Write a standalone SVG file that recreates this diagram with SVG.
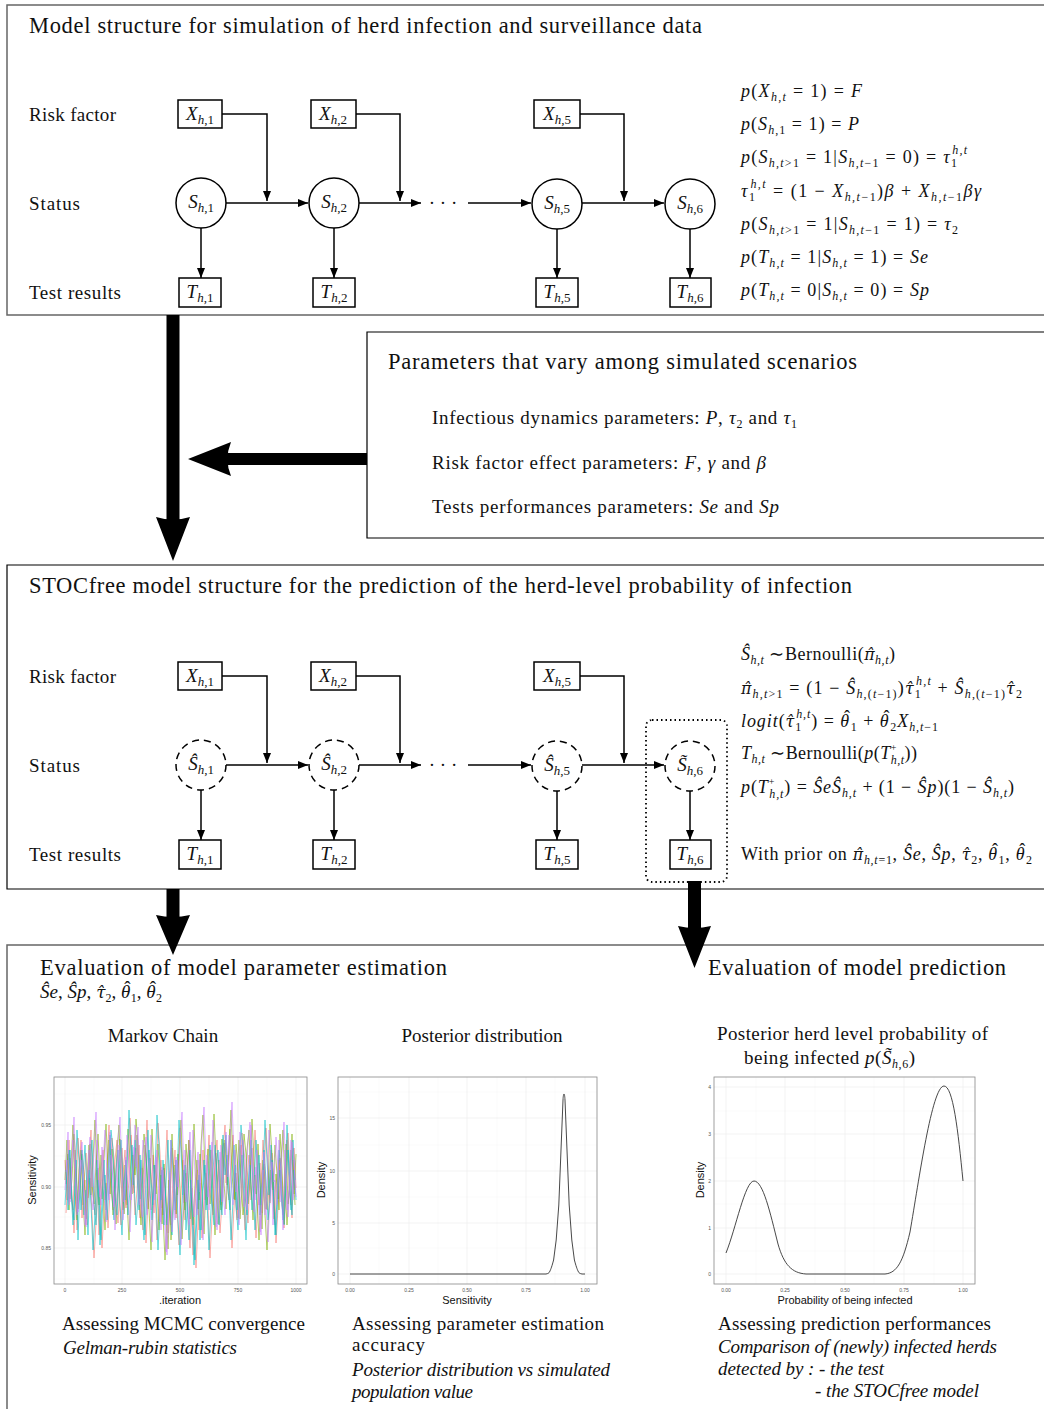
<svg xmlns="http://www.w3.org/2000/svg" xmlns:xlink="http://www.w3.org/1999/xlink" width="1044" height="1409" viewBox="0 0 1044 1409">
<defs>
<style>
text{font-family:"Liberation Serif","Times New Roman",serif;fill:#111}
.t{font-size:22.5px}
.b{font-size:19px}
.m{font-size:18px}
.nl{font-size:19px}
.i{font-style:italic}
.s{font-size:12px}
.sp{font-size:10px}
.nl .s{font-size:13px}
.h{font-family:"DejaVu Serif",serif;font-size:0.88em}
.tick{font-family:"Liberation Sans",Arial,sans-serif;font-size:5px;fill:#555}
.ax{font-family:"Liberation Sans",Arial,sans-serif;font-size:11px;fill:#111}
.box{fill:#fff;stroke:#000;stroke-width:1.5}
.circ{fill:#fff;stroke:#000;stroke-width:1.5}
.dcirc{fill:#fff;stroke:#000;stroke-width:1.5;stroke-dasharray:7 5}
.con{fill:none;stroke:#000;stroke-width:1.5}
.frame{fill:none;stroke:#666;stroke-width:1.5}
.frameb{fill:none;stroke:#000;stroke-width:1.2}
.grid{stroke:#ebebeb;stroke-width:0.6}
.gridm{stroke:#f4f4f4;stroke-width:0.4}
.panel{fill:none;stroke:#888;stroke-width:0.8}
.tr{fill:none;stroke-width:0.8;opacity:0.75}
</style>
<marker id="ah" viewBox="0 0 10 10" refX="10" refY="5" markerWidth="10" markerHeight="10" markerUnits="userSpaceOnUse" orient="auto">
<path d="M0,1 L10,5 L0,9 Z" fill="#000"/>
</marker>
<clipPath id="cp1"><rect x="54" y="1077" width="253" height="207"/></clipPath>
<polyline id="trA" vector-effect="non-scaling-stroke" points="0,1160 1,1200 2,1140 3,1190 4,1210 5,1150 6,1230 7,1175 8,1140 9,1205 10,1180 11,1225 12,1160 13,1130 14,1195 15,1215 16,1170 17,1235 18,1190 19,1150 20,1200 21,1165 22,1125 23,1185 24,1210 25,1160 26,1140 27,1195 28,1225 29,1175 30,1150 31,1205 32,1180 33,1135 34,1170 35,1215 36,1190 37,1145 38,1200 39,1230 40,1165 41,1120 42,1180 43,1210 44,1155 45,1190 46,1240 47,1200 48,1160 49,1215 50,1175 51,1130 52,1195 53,1225 54,1180 55,1150 56,1210 57,1245 58,1195 59,1160 60,1220 61,1185 62,1140 63,1205 64,1255 65,1210 66,1170 67,1230 68,1190 69,1150 70,1200 71,1175 72,1135 73,1190 74,1215 75,1160 76,1140 77,1185 78,1205 79,1150 80,1125 81,1180 82,1200 83,1165 84,1135 85,1195 86,1220 87,1170 88,1145 89,1190 90,1230 91,1180 92,1155 93,1200 94,1175 95,1130 96,1165 97,1205 98,1185 99,1140 100,1170 101,1210 102,1190 103,1150 104,1200 105,1225 106,1180 107,1160 108,1195 109,1215 110,1170 111,1140 112,1185 113,1205 114,1160 115,1190"/>
<polyline id="trB" vector-effect="non-scaling-stroke" points="0,1180 1,1140 2,1210 3,1165 4,1125 5,1190 6,1220 7,1170 8,1150 9,1200 10,1235 11,1180 12,1145 13,1195 14,1160 15,1120 16,1175 17,1205 18,1155 19,1190 20,1230 21,1185 22,1140 23,1170 24,1215 25,1195 26,1150 27,1125 28,1180 29,1210 30,1165 31,1200 32,1240 33,1190 34,1155 35,1175 36,1135 37,1195 38,1225 39,1180 40,1145 41,1170 42,1210 43,1250 44,1200 45,1165 46,1190 47,1230 48,1175 49,1215 50,1260 51,1220 52,1180 53,1240 54,1205 55,1165 56,1195 57,1150 58,1120 59,1180 60,1210 61,1170 62,1140 63,1195 64,1225 65,1185 66,1160 67,1200 68,1145 69,1115 70,1170 71,1205 72,1180 73,1150 74,1195 75,1235 76,1190 77,1160 78,1210 79,1175 80,1140 81,1185 82,1150 83,1110 84,1165 85,1200 86,1180 87,1140 88,1175 89,1215 90,1195 91,1150 92,1130 93,1185 94,1220 95,1175 96,1200 97,1240 98,1195 99,1160 100,1215 101,1250 102,1205 103,1170 104,1190 105,1145 106,1175 107,1210 108,1160 109,1130 110,1185 111,1225 112,1190 113,1150 114,1170 115,1205"/>
</defs>
<rect width="1044" height="1409" fill="#fff"/>

<!-- Frames -->
<g id="frames">
<path class="frame" d="M1046,5 H7 V315 H1046"/>
<path class="frameb" d="M1046,332 H367 V538 H1046"/>
<path class="frameb" d="M1046,565 H7 V889 H1046"/>
<path class="frame" d="M1046,945 H7 V1411"/>
<rect x="646" y="720" width="81" height="162" rx="6" fill="none" stroke="#000" stroke-width="1.8" stroke-dasharray="1.5 3"/>
</g>

<!-- Section titles and row labels -->
<g id="titles">
<text class="t" x="29" y="33" textLength="673">Model structure for simulation of herd infection and surveillance data</text>
<text class="t" x="388" y="369" textLength="469">Parameters that vary among simulated scenarios</text>
<text class="t" x="29" y="593" textLength="823">STOCfree model structure for the prediction of the herd-level probability of infection</text>
<text class="b" x="29" y="121" textLength="87">Risk factor</text>
<text class="b" x="29" y="210" textLength="51">Status</text>
<text class="b" x="29" y="299" textLength="92">Test results</text>
<text class="b" x="29" y="683" textLength="87">Risk factor</text>
<text class="b" x="29" y="772" textLength="51">Status</text>
<text class="b" x="29" y="861" textLength="92">Test results</text>
</g>

<!-- Parameters box content -->
<g id="params">
<text class="b" x="432" y="424" textLength="365">Infectious dynamics parameters:  <tspan class="i">P</tspan>, <tspan class="i">τ</tspan><tspan class="s" dy="4">2</tspan><tspan dy="-4"> and </tspan><tspan class="i">τ</tspan><tspan class="s" dy="4">1</tspan></text>
<text class="b" x="432" y="469" textLength="334">Risk factor effect parameters:  <tspan class="i">F</tspan>, <tspan class="i">γ</tspan> and <tspan class="i">β</tspan></text>
<text class="b" x="432" y="513" textLength="347">Tests performances parameters:  <tspan class="i">Se</tspan> and <tspan class="i">Sp</tspan></text>
</g>

<!-- Connectors -->
<g id="connectors">
<path class="con" d="M222,114 H267 V201" marker-end="url(#ah)"/>
<path class="con" d="M226,203 H308" marker-end="url(#ah)"/>
<path class="con" d="M356,114 H400 V201" marker-end="url(#ah)"/>
<path class="con" d="M359,203 H421" marker-end="url(#ah)"/>
<path class="con" d="M468,203 H531" marker-end="url(#ah)"/>
<path class="con" d="M580,114 H624 V201" marker-end="url(#ah)"/>
<path class="con" d="M582,203 H664" marker-end="url(#ah)"/>
<path class="con" d="M201,228 V278" marker-end="url(#ah)"/>
<path class="con" d="M334,228 V278" marker-end="url(#ah)"/>
<path class="con" d="M557,229 V278" marker-end="url(#ah)"/>
<path class="con" d="M690,229 V278" marker-end="url(#ah)"/>

<path class="con" d="M222,676 H267 V763" marker-end="url(#ah)"/>
<path class="con" d="M226,765 H308" marker-end="url(#ah)"/>
<path class="con" d="M356,676 H400 V763" marker-end="url(#ah)"/>
<path class="con" d="M359,765 H421" marker-end="url(#ah)"/>
<path class="con" d="M468,765 H531" marker-end="url(#ah)"/>
<path class="con" d="M580,676 H624 V763" marker-end="url(#ah)"/>
<path class="con" d="M582,765 H664" marker-end="url(#ah)"/>
<path class="con" d="M201,790 V840" marker-end="url(#ah)"/>
<path class="con" d="M334,790 V840" marker-end="url(#ah)"/>
<path class="con" d="M557,791 V840" marker-end="url(#ah)"/>
<path class="con" d="M690,791 V840" marker-end="url(#ah)"/>

<!-- thick arrows -->
<rect x="166.5" y="315" width="13" height="205" fill="#000"/>
<path d="M156,517 Q173,522 190,517 L173,561 Z" fill="#000"/>
<rect x="224" y="453" width="143" height="12" fill="#000"/>
<path d="M188,459 L231,442 Q224,459 231,476 Z" fill="#000"/>
<rect x="166.5" y="889" width="13" height="28" fill="#000"/>
<path d="M156,915 Q173,919 190,915 L173,955 Z" fill="#000"/>
<rect x="688" y="881" width="13" height="47" fill="#000"/>
<path d="M678,926 Q694.5,930 711,926 L694.5,968 Z" fill="#000"/>
</g>
<text class="b" x="443" y="209" text-anchor="middle">· · ·</text>
<text class="b" x="443" y="771" text-anchor="middle">· · ·</text>

<!-- Top nodes -->
<g id="X1"><rect class="box" x="178" y="100" width="44" height="28"/><text class="nl" x="200" y="120" text-anchor="middle"><tspan class="i">X</tspan><tspan class="s" dy="4"><tspan class="i">h</tspan>,1</tspan></text></g>
<g id="X2"><rect class="box" x="311" y="100" width="45" height="28"/><text class="nl" x="333" y="120" text-anchor="middle"><tspan class="i">X</tspan><tspan class="s" dy="4"><tspan class="i">h</tspan>,2</tspan></text></g>
<g id="X5"><rect class="box" x="534" y="100" width="46" height="28"/><text class="nl" x="557" y="120" text-anchor="middle"><tspan class="i">X</tspan><tspan class="s" dy="4"><tspan class="i">h</tspan>,5</tspan></text></g>
<g id="S1"><circle class="circ" cx="201" cy="203" r="25"/><text class="nl" x="201" y="208" text-anchor="middle"><tspan class="i">S</tspan><tspan class="s" dy="4"><tspan class="i">h</tspan>,1</tspan></text></g>
<g id="S2"><circle class="circ" cx="334" cy="203" r="25"/><text class="nl" x="334" y="208" text-anchor="middle"><tspan class="i">S</tspan><tspan class="s" dy="4"><tspan class="i">h</tspan>,2</tspan></text></g>
<g id="S5"><circle class="circ" cx="557" cy="204" r="25"/><text class="nl" x="557" y="209" text-anchor="middle"><tspan class="i">S</tspan><tspan class="s" dy="4"><tspan class="i">h</tspan>,5</tspan></text></g>
<g id="S6"><circle class="circ" cx="690" cy="204" r="25"/><text class="nl" x="690" y="209" text-anchor="middle"><tspan class="i">S</tspan><tspan class="s" dy="4"><tspan class="i">h</tspan>,6</tspan></text></g>
<g id="T1"><rect class="box" x="179" y="278" width="42" height="29"/><text class="nl" x="200" y="298" text-anchor="middle"><tspan class="i">T</tspan><tspan class="s" dy="4"><tspan class="i">h</tspan>,1</tspan></text></g>
<g id="T2"><rect class="box" x="313" y="278" width="42" height="29"/><text class="nl" x="334" y="298" text-anchor="middle"><tspan class="i">T</tspan><tspan class="s" dy="4"><tspan class="i">h</tspan>,2</tspan></text></g>
<g id="T5"><rect class="box" x="536" y="278" width="42" height="29"/><text class="nl" x="557" y="298" text-anchor="middle"><tspan class="i">T</tspan><tspan class="s" dy="4"><tspan class="i">h</tspan>,5</tspan></text></g>
<g id="T6"><rect class="box" x="670" y="278" width="41" height="29"/><text class="nl" x="690" y="298" text-anchor="middle"><tspan class="i">T</tspan><tspan class="s" dy="4"><tspan class="i">h</tspan>,6</tspan></text></g>

<!-- Middle nodes -->
<g id="MX1"><rect class="box" x="178" y="662" width="44" height="28"/><text class="nl" x="200" y="682" text-anchor="middle"><tspan class="i">X</tspan><tspan class="s" dy="4"><tspan class="i">h</tspan>,1</tspan></text></g>
<g id="MX2"><rect class="box" x="311" y="662" width="45" height="28"/><text class="nl" x="333" y="682" text-anchor="middle"><tspan class="i">X</tspan><tspan class="s" dy="4"><tspan class="i">h</tspan>,2</tspan></text></g>
<g id="MX5"><rect class="box" x="534" y="662" width="46" height="28"/><text class="nl" x="557" y="682" text-anchor="middle"><tspan class="i">X</tspan><tspan class="s" dy="4"><tspan class="i">h</tspan>,5</tspan></text></g>
<g id="MS1"><circle class="dcirc" cx="201" cy="765" r="25"/><text class="nl" x="201" y="770" text-anchor="middle"><tspan class="i">Ŝ</tspan><tspan class="s" dy="4"><tspan class="i">h</tspan>,1</tspan></text></g>
<g id="MS2"><circle class="dcirc" cx="334" cy="765" r="25"/><text class="nl" x="334" y="770" text-anchor="middle"><tspan class="i">Ŝ</tspan><tspan class="s" dy="4"><tspan class="i">h</tspan>,2</tspan></text></g>
<g id="MS5"><circle class="dcirc" cx="557" cy="766" r="25"/><text class="nl" x="557" y="771" text-anchor="middle"><tspan class="i">Ŝ</tspan><tspan class="s" dy="4"><tspan class="i">h</tspan>,5</tspan></text></g>
<g id="MS6"><circle class="dcirc" cx="690" cy="766" r="25"/><text class="nl" x="690" y="771" text-anchor="middle"><tspan class="i">S̃</tspan><tspan class="s" dy="4"><tspan class="i">h</tspan>,6</tspan></text></g>
<g id="MT1"><rect class="box" x="179" y="840" width="42" height="29"/><text class="nl" x="200" y="860" text-anchor="middle"><tspan class="i">T</tspan><tspan class="s" dy="4"><tspan class="i">h</tspan>,1</tspan></text></g>
<g id="MT2"><rect class="box" x="313" y="840" width="42" height="29"/><text class="nl" x="334" y="860" text-anchor="middle"><tspan class="i">T</tspan><tspan class="s" dy="4"><tspan class="i">h</tspan>,2</tspan></text></g>
<g id="MT5"><rect class="box" x="536" y="840" width="42" height="29"/><text class="nl" x="557" y="860" text-anchor="middle"><tspan class="i">T</tspan><tspan class="s" dy="4"><tspan class="i">h</tspan>,5</tspan></text></g>
<g id="MT6"><rect class="box" x="670" y="840" width="41" height="29"/><text class="nl" x="690" y="860" text-anchor="middle"><tspan class="i">T</tspan><tspan class="s" dy="4"><tspan class="i">h</tspan>,6</tspan></text></g>

<!-- Top equations -->
<g id="eqTop">
<text class="m" x="741" y="97" textLength="121"><tspan class="i">p</tspan>(<tspan class="i">X</tspan><tspan class="s i" dy="4">h,t</tspan><tspan dy="-4"> = 1) = </tspan><tspan class="i">F</tspan></text>
<text class="m" x="741" y="130" textLength="118"><tspan class="i">p</tspan>(<tspan class="i">S</tspan><tspan class="s" dy="4"><tspan class="i">h</tspan>,1</tspan><tspan dy="-4"> = 1) = </tspan><tspan class="i">P</tspan></text>
<text class="m" x="741" y="163" textLength="226"><tspan class="i">p</tspan>(<tspan class="i">S</tspan><tspan class="s" dy="4"><tspan class="i">h,t</tspan>&gt;1</tspan><tspan dy="-4"> = 1|</tspan><tspan class="i">S</tspan><tspan class="s" dy="4"><tspan class="i">h,t</tspan>−1</tspan><tspan dy="-4"> = 0) = </tspan><tspan class="i">τ</tspan><tspan class="s" dy="4">1</tspan><tspan class="s i" dx="-6" dy="-13">h,t</tspan></text>
<text class="m" x="741" y="197" textLength="240"><tspan class="i">τ</tspan><tspan class="s" dy="4">1</tspan><tspan class="s i" dx="-6" dy="-13">h,t</tspan><tspan dy="9"> = (1 − </tspan><tspan class="i">X</tspan><tspan class="s" dy="4"><tspan class="i">h,t</tspan>−1</tspan><tspan dy="-4">)</tspan><tspan class="i">β</tspan> + <tspan class="i">X</tspan><tspan class="s" dy="4"><tspan class="i">h,t</tspan>−1</tspan><tspan class="i" dy="-4">βγ</tspan></text>
<text class="m" x="741" y="230" textLength="217"><tspan class="i">p</tspan>(<tspan class="i">S</tspan><tspan class="s" dy="4"><tspan class="i">h,t</tspan>&gt;1</tspan><tspan dy="-4"> = 1|</tspan><tspan class="i">S</tspan><tspan class="s" dy="4"><tspan class="i">h,t</tspan>−1</tspan><tspan dy="-4"> = 1) = </tspan><tspan class="i">τ</tspan><tspan class="s" dy="4">2</tspan></text>
<text class="m" x="741" y="263" textLength="187"><tspan class="i">p</tspan>(<tspan class="i">T</tspan><tspan class="s i" dy="4">h,t</tspan><tspan dy="-4"> = 1|</tspan><tspan class="i">S</tspan><tspan class="s i" dy="4">h,t</tspan><tspan dy="-4"> = 1) = </tspan><tspan class="i">Se</tspan></text>
<text class="m" x="741" y="296" textLength="188"><tspan class="i">p</tspan>(<tspan class="i">T</tspan><tspan class="s i" dy="4">h,t</tspan><tspan dy="-4"> = 0|</tspan><tspan class="i">S</tspan><tspan class="s i" dy="4">h,t</tspan><tspan dy="-4"> = 0) = </tspan><tspan class="i">Sp</tspan></text>
</g>

<!-- Middle equations -->
<g id="eqMid">
<text class="m" x="741" y="660" textLength="154"><tspan class="i">Ŝ</tspan><tspan class="s i" dy="4">h,t</tspan><tspan dy="-4"> ∼Bernoulli(</tspan><tspan class="i h">π̂</tspan><tspan class="s i" dy="4">h,t</tspan><tspan dy="-4">)</tspan></text>
<text class="m" x="741" y="694" textLength="281"><tspan class="i h">π̂</tspan><tspan class="s" dy="4"><tspan class="i">h,t</tspan>&gt;1</tspan><tspan dy="-4"> = (1 − </tspan><tspan class="i">Ŝ</tspan><tspan class="s" dy="4"><tspan class="i">h</tspan>,(<tspan class="i">t</tspan>−1)</tspan><tspan dy="-4">)</tspan><tspan class="i h">τ̂</tspan><tspan class="s" dy="4">1</tspan><tspan class="s i" dx="-6" dy="-13">h,t</tspan><tspan dy="9"> + </tspan><tspan class="i">Ŝ</tspan><tspan class="s" dy="4"><tspan class="i">h</tspan>,(<tspan class="i">t</tspan>−1)</tspan><tspan class="i h" dy="-4">τ̂</tspan><tspan class="s" dy="4">2</tspan></text>
<text class="m" x="741" y="727" textLength="197"><tspan class="i">logit</tspan>(<tspan class="i h">τ̂</tspan><tspan class="s" dy="4">1</tspan><tspan class="s i" dx="-6" dy="-13">h,t</tspan><tspan dy="9">) = </tspan><tspan class="i">θ</tspan><tspan dx="-6" dy="-4">ˆ</tspan><tspan class="s" dy="8">1</tspan><tspan dy="-4"> + </tspan><tspan class="i">θ</tspan><tspan dx="-6" dy="-4">ˆ</tspan><tspan class="s" dy="8">2</tspan><tspan class="i" dy="-4">X</tspan><tspan class="s" dy="4"><tspan class="i">h,t</tspan>−1</tspan></text>
<text class="m" x="741" y="759" textLength="176"><tspan class="i">T</tspan><tspan class="s i" dy="4">h,t</tspan><tspan dy="-4"> ∼Bernoulli(</tspan><tspan class="i">p</tspan>(<tspan class="i">T</tspan><tspan class="sp" dy="-8">+</tspan><tspan class="s i" dx="-6" dy="13">h,t</tspan><tspan dy="-5">))</tspan></text>
<text class="m" x="741" y="793" textLength="273"><tspan class="i">p</tspan>(<tspan class="i">T</tspan><tspan class="sp" dy="-8">+</tspan><tspan class="s i" dx="-6" dy="13">h,t</tspan><tspan dy="-5">) = </tspan><tspan class="i">ŜeŜ</tspan><tspan class="s i" dy="4">h,t</tspan><tspan dy="-4"> + (1 − </tspan><tspan class="i">Ŝp</tspan>)(1 − <tspan class="i">Ŝ</tspan><tspan class="s i" dy="4">h,t</tspan><tspan dy="-4">)</tspan></text>
<text class="m" x="741" y="860" textLength="291">With prior on <tspan class="i h">π̂</tspan><tspan class="s" dy="4"><tspan class="i">h,t</tspan>=1</tspan><tspan dy="-4">, </tspan><tspan class="i">Ŝe</tspan>, <tspan class="i">Ŝp</tspan>, <tspan class="i h">τ̂</tspan><tspan class="s" dy="4">2</tspan><tspan dy="-4">, </tspan><tspan class="i">θ</tspan><tspan dx="-6" dy="-4">ˆ</tspan><tspan class="s" dy="8">1</tspan><tspan dy="-4">, </tspan><tspan class="i">θ</tspan><tspan dx="-6" dy="-4">ˆ</tspan><tspan class="s" dy="8">2</tspan></text>
</g>

<!-- Bottom section -->
<g id="evaluation">
<text class="t" x="40" y="975" textLength="407">Evaluation of model parameter estimation</text>
<text class="b" x="40" y="998" textLength="122"><tspan class="i">Ŝe</tspan>, <tspan class="i">Ŝp</tspan>, <tspan class="i h">τ̂</tspan><tspan class="s" dy="4">2</tspan><tspan dy="-4">, </tspan><tspan class="i">θ</tspan><tspan dx="-6" dy="-4">ˆ</tspan><tspan class="s" dy="8">1</tspan><tspan dy="-4">, </tspan><tspan class="i">θ</tspan><tspan dx="-6" dy="-4">ˆ</tspan><tspan class="s" dy="8">2</tspan></text>
<text class="t" x="708" y="975" textLength="298">Evaluation of model prediction</text>
<text class="b" x="163" y="1042" text-anchor="middle">Markov Chain</text>
<text class="b" x="482" y="1042" text-anchor="middle">Posterior distribution</text>
<text class="b" x="717" y="1040" textLength="271">Posterior herd level probability of</text>
<text class="b" x="744" y="1064" textLength="171">being infected <tspan class="i">p</tspan>(<tspan class="i">S̃</tspan><tspan class="s" dy="4"><tspan class="i">h</tspan>,6</tspan><tspan dy="-4">)</tspan></text>

<text class="b" x="62" y="1330" textLength="243">Assessing MCMC convergence</text>
<text class="b i" x="63" y="1354" textLength="174">Gelman-rubin statistics</text>
<text class="b" x="352" y="1330" textLength="252">Assessing parameter estimation</text>
<text class="b" x="352" y="1351" textLength="73">accuracy</text>
<text class="b i" x="352" y="1376" textLength="258">Posterior distribution vs simulated</text>
<text class="b i" x="352" y="1398" textLength="121">population value</text>
<text class="b" x="718" y="1330" textLength="273">Assessing prediction performances</text>
<text class="b i" x="718" y="1353" textLength="279">Comparison of (newly) infected herds</text>
<text class="b i" x="718" y="1375" textLength="166">detected by : - the test</text>
<text class="b i" x="815" y="1397" textLength="164">- the STOCfree model</text>
</g>

<!-- Plot 1: Markov chain -->
<g id="plot1">
<rect x="54" y="1077" width="253" height="207" fill="#fff"/>
<g class="gridm">
<line x1="54" x2="307" y1="1094" y2="1094"/><line x1="54" x2="307" y1="1156" y2="1156"/><line x1="54" x2="307" y1="1217" y2="1217"/><line x1="54" x2="307" y1="1279" y2="1279"/>
<line x1="94" x2="94" y1="1077" y2="1284"/><line x1="151" x2="151" y1="1077" y2="1284"/><line x1="209" x2="209" y1="1077" y2="1284"/><line x1="267" x2="267" y1="1077" y2="1284"/>
</g>
<g class="grid">
<line x1="54" x2="307" y1="1125" y2="1125"/><line x1="54" x2="307" y1="1187" y2="1187"/><line x1="54" x2="307" y1="1248" y2="1248"/>
<line x1="65" x2="65" y1="1077" y2="1284"/><line x1="122" x2="122" y1="1077" y2="1284"/><line x1="180" x2="180" y1="1077" y2="1284"/><line x1="238" x2="238" y1="1077" y2="1284"/><line x1="296" x2="296" y1="1077" y2="1284"/>
</g>
<g clip-path="url(#cp1)">
<use xlink:href="#trA" class="tr" stroke="#F8766D" transform="translate(65,0) scale(2,1)"/>
<use xlink:href="#trB" class="tr" stroke="#F8766D" transform="translate(296,8) scale(-2,1)"/>
<use xlink:href="#trB" class="tr" stroke="#7CAE00" transform="translate(65,0) scale(2,1)"/>
<use xlink:href="#trA" class="tr" stroke="#7CAE00" transform="translate(296,-6) scale(-2,1)"/>
<use xlink:href="#trB" class="tr" stroke="#00BFC4" transform="translate(295,0) scale(-2,1)"/>
<use xlink:href="#trA" class="tr" stroke="#00BFC4" transform="translate(66,10) scale(2,1)"/>
<use xlink:href="#trA" class="tr" stroke="#C77CFF" transform="translate(295,0) scale(-2,1)"/>
<use xlink:href="#trB" class="tr" stroke="#C77CFF" transform="translate(66,-8) scale(2,1)"/>
</g>
<rect class="panel" x="54" y="1077" width="253" height="207"/>
<text class="tick" x="51" y="1127" text-anchor="end">0.95</text>
<text class="tick" x="51" y="1189" text-anchor="end">0.90</text>
<text class="tick" x="51" y="1250" text-anchor="end">0.85</text>
<text class="tick" x="65" y="1292" text-anchor="middle">0</text>
<text class="tick" x="122" y="1292" text-anchor="middle">250</text>
<text class="tick" x="180" y="1292" text-anchor="middle">500</text>
<text class="tick" x="238" y="1292" text-anchor="middle">750</text>
<text class="tick" x="296" y="1292" text-anchor="middle">1000</text>
<text class="ax" x="180" y="1304" text-anchor="middle">.iteration</text>
<text class="ax" transform="translate(36,1180) rotate(-90)" text-anchor="middle">Sensitivity</text>
</g>

<!-- Plot 2: Posterior distribution -->
<g id="plot2">
<rect x="338" y="1077" width="259" height="207" fill="#fff"/>
<g class="gridm">
<line x1="338" x2="597" y1="1248" y2="1248"/><line x1="338" x2="597" y1="1197" y2="1197"/><line x1="338" x2="597" y1="1145" y2="1145"/><line x1="338" x2="597" y1="1092" y2="1092"/>
<line x1="379" x2="379" y1="1077" y2="1284"/><line x1="438" x2="438" y1="1077" y2="1284"/><line x1="497" x2="497" y1="1077" y2="1284"/><line x1="555" x2="555" y1="1077" y2="1284"/>
</g>
<g class="grid">
<line x1="338" x2="597" y1="1274" y2="1274"/><line x1="338" x2="597" y1="1223" y2="1223"/><line x1="338" x2="597" y1="1171" y2="1171"/><line x1="338" x2="597" y1="1118" y2="1118"/>
<line x1="350" x2="350" y1="1077" y2="1284"/><line x1="409" x2="409" y1="1077" y2="1284"/><line x1="467" x2="467" y1="1077" y2="1284"/><line x1="526" x2="526" y1="1077" y2="1284"/><line x1="585" x2="585" y1="1077" y2="1284"/>
</g>
<path d="M350,1274 L546,1274 C548,1273.6 549,1273 549.5,1272 C551,1269 552,1266 553.6,1260 L556.2,1240 L558.8,1205 L561.4,1140 L563,1100 C563.4,1092 564.6,1092 565,1100 L566.6,1140 L569.2,1205 L571.8,1240 L574.4,1260 C576,1266 577,1269 578.5,1272 C579,1273 580,1273.6 582,1274 L585,1274" fill="none" stroke="#333" stroke-width="0.9"/>
<rect class="panel" x="338" y="1077" width="259" height="207"/>
<text class="tick" x="335" y="1276" text-anchor="end">0</text>
<text class="tick" x="335" y="1225" text-anchor="end">5</text>
<text class="tick" x="335" y="1173" text-anchor="end">10</text>
<text class="tick" x="335" y="1120" text-anchor="end">15</text>
<text class="tick" x="350" y="1292" text-anchor="middle">0.00</text>
<text class="tick" x="409" y="1292" text-anchor="middle">0.25</text>
<text class="tick" x="467" y="1292" text-anchor="middle">0.50</text>
<text class="tick" x="526" y="1292" text-anchor="middle">0.75</text>
<text class="tick" x="585" y="1292" text-anchor="middle">1.00</text>
<text class="ax" x="467" y="1304" text-anchor="middle">Sensitivity</text>
<text class="ax" transform="translate(325,1180) rotate(-90)" text-anchor="middle">Density</text>
</g>

<!-- Plot 3: Probability of being infected -->
<g id="plot3">
<rect x="714" y="1077" width="261" height="207" fill="#fff"/>
<g class="gridm">
<line x1="714" x2="975" y1="1251" y2="1251"/><line x1="714" x2="975" y1="1204" y2="1204"/><line x1="714" x2="975" y1="1158" y2="1158"/><line x1="714" x2="975" y1="1111" y2="1111"/>
<line x1="756" x2="756" y1="1077" y2="1284"/><line x1="815" x2="815" y1="1077" y2="1284"/><line x1="874" x2="874" y1="1077" y2="1284"/><line x1="934" x2="934" y1="1077" y2="1284"/>
</g>
<g class="grid">
<line x1="714" x2="975" y1="1274" y2="1274"/><line x1="714" x2="975" y1="1228" y2="1228"/><line x1="714" x2="975" y1="1181" y2="1181"/><line x1="714" x2="975" y1="1134" y2="1134"/><line x1="714" x2="975" y1="1087" y2="1087"/>
<line x1="726" x2="726" y1="1077" y2="1284"/><line x1="785" x2="785" y1="1077" y2="1284"/><line x1="845" x2="845" y1="1077" y2="1284"/><line x1="904" x2="904" y1="1077" y2="1284"/><line x1="963" x2="963" y1="1077" y2="1284"/>
</g>
<path d="M726,1253 C736,1228 745,1181 754,1181 C763,1181 770,1212 778,1244 C784,1265 792,1273 806,1274 L885,1274 C897,1273 903,1262 910,1232 C919,1180 932,1086 944,1086 C953,1086 958,1130 963,1181" fill="none" stroke="#333" stroke-width="0.9"/>
<rect class="panel" x="714" y="1077" width="261" height="207"/>
<text class="tick" x="711" y="1276" text-anchor="end">0</text>
<text class="tick" x="711" y="1230" text-anchor="end">1</text>
<text class="tick" x="711" y="1183" text-anchor="end">2</text>
<text class="tick" x="711" y="1136" text-anchor="end">3</text>
<text class="tick" x="711" y="1089" text-anchor="end">4</text>
<text class="tick" x="726" y="1292" text-anchor="middle">0.00</text>
<text class="tick" x="785" y="1292" text-anchor="middle">0.25</text>
<text class="tick" x="845" y="1292" text-anchor="middle">0.50</text>
<text class="tick" x="904" y="1292" text-anchor="middle">0.75</text>
<text class="tick" x="963" y="1292" text-anchor="middle">1.00</text>
<text class="ax" x="845" y="1304" text-anchor="middle">Probability of being infected</text>
<text class="ax" transform="translate(704,1180) rotate(-90)" text-anchor="middle">Density</text>
</g>
</svg>
